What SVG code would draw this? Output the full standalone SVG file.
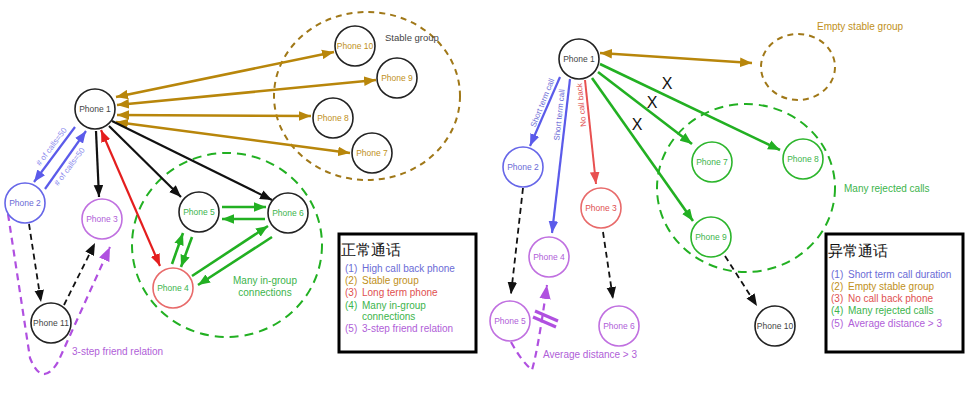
<svg xmlns="http://www.w3.org/2000/svg" width="968" height="412" viewBox="0 0 968 412">
<defs>
<style>
text{font-family:"Liberation Sans",Arial,sans-serif}
.n{fill:#fff;stroke-width:1.6}
.lb{font-size:8.5px;text-anchor:middle}
.blk{stroke:#222}
.bl{stroke:#6666e8}
.pu{stroke:#c070e0}
.rd{stroke:#e86a6a}
.gn{stroke:#2cb52c}
.tblk{fill:#444}
.tbl{fill:#6b6bd6}
.tbr{fill:#c0901a}
.trd{fill:#e05050}
.tgn{fill:#3cb44b}
.tpu{fill:#b060d8}
.ab{stroke:#b8860b;stroke-width:2.6;fill:none}
.ak{stroke:#111;stroke-width:2.2;fill:none}
.ar{stroke:#e41e1e;stroke-width:2.2;fill:none}
.ag{stroke:#22b022;stroke-width:2.6;fill:none}
.au{stroke:#5b5bea;stroke-width:2.2;fill:none}
.dk{stroke:#111;stroke-width:1.8;stroke-dasharray:6 4;fill:none}
.dp{stroke:#b050e0;stroke-width:2.2;stroke-dasharray:7 5;fill:none}
.leg{font-size:10px}
</style>
<marker id="mb" viewBox="0 0 10 8" refX="10" refY="4" markerWidth="12" markerHeight="10" markerUnits="userSpaceOnUse" orient="auto-start-reverse"><path d="M0,0L10,4L0,8z" fill="#b8860b"/></marker>
<marker id="mk" viewBox="0 0 10 8" refX="10" refY="4" markerWidth="12" markerHeight="10" markerUnits="userSpaceOnUse" orient="auto-start-reverse"><path d="M0,0L10,4L0,8z" fill="#111"/></marker>
<marker id="mr" viewBox="0 0 10 8" refX="10" refY="4" markerWidth="12" markerHeight="10" markerUnits="userSpaceOnUse" orient="auto-start-reverse"><path d="M0,0L10,4L0,8z" fill="#e41e1e"/></marker>
<marker id="mr2" viewBox="0 0 10 8" refX="10" refY="4" markerWidth="12" markerHeight="10" markerUnits="userSpaceOnUse" orient="auto-start-reverse"><path d="M0,0L10,4L0,8z" fill="#e85050"/></marker>
<marker id="mg" viewBox="0 0 10 8" refX="10" refY="4" markerWidth="12" markerHeight="10" markerUnits="userSpaceOnUse" orient="auto-start-reverse"><path d="M0,0L10,4L0,8z" fill="#22b022"/></marker>
<marker id="mu" viewBox="0 0 10 8" refX="10" refY="4" markerWidth="12" markerHeight="10" markerUnits="userSpaceOnUse" orient="auto-start-reverse"><path d="M0,0L10,4L0,8z" fill="#5b5bea"/></marker>
<marker id="mp" viewBox="0 0 10 8" refX="10" refY="4" markerWidth="14" markerHeight="12" markerUnits="userSpaceOnUse" orient="auto-start-reverse"><path d="M0,0L10,4L0,8z" fill="#b050e0"/></marker>
</defs>
<rect width="968" height="412" fill="#fff"/>

<g id="groups">
<ellipse cx="367" cy="96" rx="93" ry="84" fill="none" stroke="#a07818" stroke-width="2" stroke-dasharray="6 5"/>
<text x="385" y="41" font-size="9.5" fill="#444">Stable group</text>
<ellipse cx="227" cy="245" rx="95" ry="92" fill="none" stroke="#22b022" stroke-width="2" stroke-dasharray="9 6"/>
<text x="265" y="284" font-size="10" class="tgn" text-anchor="middle">Many in-group</text>
<text x="265" y="296" font-size="10" class="tgn" text-anchor="middle">connections</text>
<ellipse cx="798" cy="67" rx="37" ry="33" fill="none" stroke="#a07818" stroke-width="2" stroke-dasharray="6 5"/>
<text x="817" y="30" font-size="10" class="tbr">Empty stable group</text>
<ellipse cx="746" cy="188" rx="89" ry="84" fill="none" stroke="#22b022" stroke-width="2" stroke-dasharray="9 6"/>
<text x="844" y="192" font-size="10" class="tgn">Many rejected calls</text>
</g>

<g id="connectors">
<line class="ab" x1="116" y1="97" x2="334" y2="52" marker-start="url(#mb)" marker-end="url(#mb)"/>
<line class="ab" x1="117" y1="105" x2="376" y2="80" marker-start="url(#mb)" marker-end="url(#mb)"/>
<line class="ab" x1="117" y1="115" x2="311" y2="116" marker-start="url(#mb)" marker-end="url(#mb)"/>
<line class="ab" x1="116" y1="122" x2="350" y2="153" marker-start="url(#mb)" marker-end="url(#mb)"/>
<line class="au" x1="75" y1="127" x2="34" y2="182" marker-end="url(#mu)"/>
<line class="au" x1="45" y1="189" x2="86" y2="131" marker-end="url(#mu)"/>
<text x="52" y="149" font-size="8" fill="#8a8aee" text-anchor="middle" transform="rotate(-53 52 147)"># of calls=50</text>
<text x="70" y="169" font-size="8" fill="#8a8aee" text-anchor="middle" transform="rotate(-53 70 167)"># of calls=50</text>
<line class="ak" x1="96" y1="131" x2="99" y2="197" marker-end="url(#mk)"/>
<line class="ak" x1="109" y1="126" x2="181" y2="197" marker-end="url(#mk)"/>
<line class="ak" x1="112" y1="121" x2="272" y2="200" marker-end="url(#mk)"/>
<line class="ar" x1="101" y1="130" x2="160" y2="266" marker-start="url(#mr)" marker-end="url(#mr)"/>
<line class="ag" x1="222" y1="207" x2="266" y2="207" marker-end="url(#mg)"/>
<line class="ag" x1="265" y1="219" x2="222" y2="219" marker-end="url(#mg)"/>
<line class="ag" x1="172" y1="264" x2="183" y2="233" marker-end="url(#mg)"/>
<line class="ag" x1="192" y1="237" x2="181" y2="267" marker-end="url(#mg)"/>
<line class="ag" x1="192" y1="276" x2="268" y2="226" marker-end="url(#mg)"/>
<line class="ag" x1="272" y1="237" x2="198" y2="285" marker-end="url(#mg)"/>
<line class="dk" x1="29" y1="224" x2="41" y2="302" marker-end="url(#mk)"/>
<line class="dk" x1="64" y1="305" x2="95" y2="243" marker-end="url(#mk)"/>
<path class="dp" d="M8,214 L30,358 Q42,388 58,362 L110,247" marker-end="url(#mp)"/>
<text x="72" y="355" font-size="10" class="tpu">3-step friend relation</text>
<line class="ab" x1="600" y1="53" x2="752" y2="63" marker-start="url(#mb)" marker-end="url(#mb)"/>
<line class="ag" x1="598" y1="72" x2="692" y2="144" marker-end="url(#mg)"/>
<line class="ag" x1="600" y1="64" x2="780" y2="150" marker-end="url(#mg)"/>
<line class="ag" x1="592" y1="78" x2="693" y2="221" marker-end="url(#mg)"/>
<text x="667" y="89" font-size="16" fill="#111" text-anchor="middle">X</text>
<text x="652" y="108" font-size="16" fill="#111" text-anchor="middle">X</text>
<text x="637" y="130" font-size="16" fill="#111" text-anchor="middle">X</text>
<line class="au" x1="560" y1="77" x2="530" y2="146" marker-end="url(#mu)"/>
<line class="au" x1="570" y1="79" x2="552" y2="233" marker-end="url(#mu)"/>
<line x1="585" y1="80" x2="596" y2="184" stroke="#e85050" stroke-width="2" marker-end="url(#mr2)"/>
<text x="543" y="105" font-size="8" fill="#6b6bd6" text-anchor="middle" transform="rotate(-68 543 103)">Short term call</text>
<text x="560" y="117" font-size="8" fill="#6b6bd6" text-anchor="middle" transform="rotate(-84 560 115)">Short term call</text>
<text x="582" y="107" font-size="8" fill="#e05050" text-anchor="middle" transform="rotate(-96 582 105)">No call back</text>
<line class="dk" x1="523" y1="188" x2="511" y2="294" marker-end="url(#mk)"/>
<line class="dk" x1="603" y1="232" x2="613" y2="299" marker-end="url(#mk)"/>
<line class="dk" x1="725" y1="256" x2="757" y2="306" marker-end="url(#mk)"/>
<path class="dp" d="M511,342 Q522,362 532,370 Q538,350 547,285" marker-end="url(#mp)"/>
<g stroke="#b050e0" stroke-width="3.2">
<line x1="535" y1="311" x2="558" y2="321"/>
<line x1="533" y1="317" x2="556" y2="327"/>
</g>
<text x="543" y="358" font-size="10" class="tpu">Average distance &gt; 3</text>
</g>

<g id="L-phone1"><circle class="n blk" cx="95" cy="109" r="20"/><text class="lb tblk" x="95" y="112">Phone 1</text></g>
<g id="L-phone10"><circle class="n blk" cx="355" cy="46" r="20"/><text class="lb tbr" x="355" y="49">Phone 10</text></g>
<g id="L-phone9"><circle class="n blk" cx="397" cy="78" r="20"/><text class="lb tbr" x="397" y="81">Phone 9</text></g>
<g id="L-phone8"><circle class="n blk" cx="333" cy="118" r="20"/><text class="lb tbr" x="333" y="121">Phone 8</text></g>
<g id="L-phone7"><circle class="n blk" cx="372" cy="153" r="20"/><text class="lb tbr" x="372" y="156">Phone 7</text></g>
<g id="L-phone2"><circle class="n bl" cx="25" cy="203" r="20"/><text class="lb tbl" x="25" y="206">Phone 2</text></g>
<g id="L-phone3"><circle class="n pu" cx="102" cy="219" r="20"/><text class="lb tpu" x="102" y="222">Phone 3</text></g>
<g id="L-phone5"><circle class="n blk" cx="199" cy="212" r="20"/><text class="lb tgn" x="199" y="215">Phone 5</text></g>
<g id="L-phone6"><circle class="n blk" cx="288" cy="213" r="20"/><text class="lb tgn" x="288" y="216">Phone 6</text></g>
<g id="L-phone4"><circle class="n rd" cx="173" cy="288" r="20"/><text class="lb tgn" x="173" y="291">Phone 4</text></g>
<g id="L-phone11"><circle class="n blk" cx="51" cy="323" r="20"/><text class="lb tblk" x="51" y="326">Phone 11</text></g>

<g id="R-phone1"><circle class="n blk" cx="579" cy="59" r="20"/><text class="lb tblk" x="579" y="62">Phone 1</text></g>
<g id="R-phone7"><circle class="n gn" cx="712" cy="162" r="20"/><text class="lb tgn" x="712" y="165">Phone 7</text></g>
<g id="R-phone8"><circle class="n gn" cx="803" cy="159" r="20"/><text class="lb tgn" x="803" y="162">Phone 8</text></g>
<g id="R-phone9"><circle class="n gn" cx="711" cy="237" r="20"/><text class="lb tgn" x="711" y="240">Phone 9</text></g>
<g id="R-phone10"><circle class="n blk" cx="775" cy="326" r="20"/><text class="lb tblk" x="775" y="329">Phone 10</text></g>
<g id="R-phone2"><circle class="n bl" cx="523" cy="167" r="20"/><text class="lb tbl" x="523" y="170">Phone 2</text></g>
<g id="R-phone3"><circle class="n rd" cx="601" cy="208" r="20"/><text class="lb trd" x="601" y="211">Phone 3</text></g>
<g id="R-phone4"><circle class="n pu" cx="549" cy="257" r="20"/><text class="lb tpu" x="549" y="260">Phone 4</text></g>
<g id="R-phone5"><circle class="n pu" cx="510" cy="321" r="20"/><text class="lb tpu" x="510" y="324">Phone 5</text></g>
<g id="R-phone6"><circle class="n pu" cx="619" cy="326" r="20"/><text class="lb tpu" x="619" y="329">Phone 6</text></g>

<g id="legend-normal">
<rect x="339" y="234" width="137" height="118" fill="#fff" stroke="#000" stroke-width="3"/>
<text x="341" y="255" font-size="15" fill="#111" font-family="'Liberation Sans','Noto Sans CJK SC',sans-serif">正常通话</text>
<g class="leg">
<text x="345" y="272" class="tbl">(1)</text><text x="362" y="272" class="tbl">High call back phone</text>
<text x="345" y="284" class="tbr">(2)</text><text x="362" y="284" class="tbr">Stable group</text>
<text x="345" y="296" class="trd">(3)</text><text x="362" y="296" class="trd">Long term phone</text>
<text x="345" y="309" class="tgn">(4)</text><text x="362" y="309" class="tgn">Many in-group</text>
<text x="362" y="320" class="tgn">connections</text>
<text x="345" y="332" class="tpu">(5)</text><text x="362" y="332" class="tpu">3-step friend relation</text>
</g>
</g>
<g id="legend-abnormal">
<rect x="826" y="234" width="137" height="118" fill="#fff" stroke="#000" stroke-width="3"/>
<text x="828" y="256" font-size="15" fill="#111" font-family="'Liberation Sans','Noto Sans CJK SC',sans-serif">异常通话</text>
<g class="leg">
<text x="831" y="278" class="tbl">(1)</text><text x="848" y="278" class="tbl">Short term call duration</text>
<text x="831" y="290" class="tbr">(2)</text><text x="848" y="290" class="tbr">Empty stable group</text>
<text x="831" y="302" class="trd">(3)</text><text x="848" y="302" class="trd">No call back phone</text>
<text x="831" y="314" class="tgn">(4)</text><text x="848" y="314" class="tgn">Many rejected calls</text>
<text x="831" y="327" class="tpu">(5)</text><text x="848" y="327" class="tpu">Average distance &gt; 3</text>
</g>
</g>
</svg>
